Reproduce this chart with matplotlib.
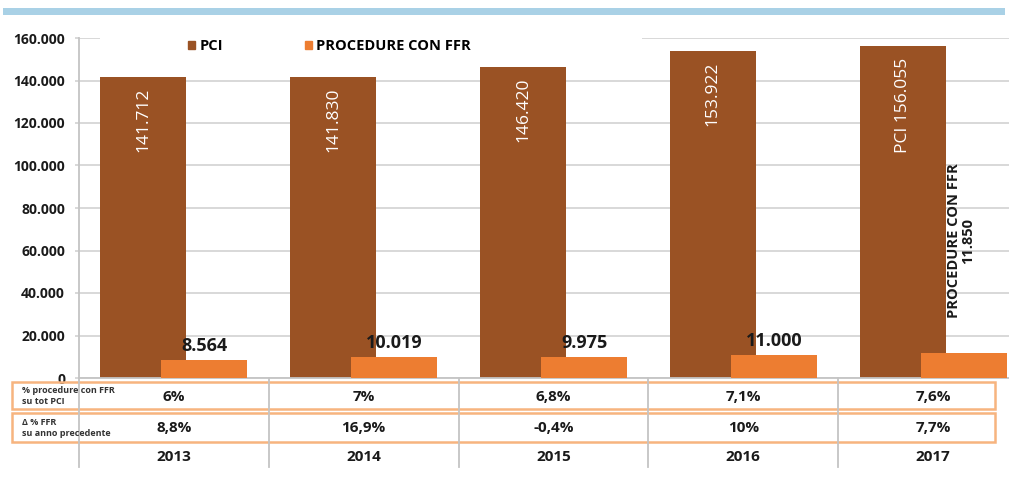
import matplotlib
matplotlib.use("Agg")
import matplotlib.pyplot as plt
from matplotlib.patches import Patch, Rectangle
from matplotlib.transforms import blended_transform_factory
import numpy as np

# ---------------- data ----------------
years = ["2013", "2014", "2015", "2016", "2017"]
pci = [141712, 141830, 146420, 153922, 156055]
ffr = [8564, 10019, 9975, 11000, 11850]
pct_ffr_on_pci = ["6%", "7%", "6,8%", "7,1%", "7,6%"]
delta_ffr = ["8,8%", "16,9%", "-0,4%", "10%", "7,7%"]
row_labels = ["% procedure con FFR\nsu tot PCI", "Δ % FFR\nsu anno precedente"]
series_names = ["PCI", "PROCEDURE CON FFR"]
yticks = [0, 20000, 40000, 60000, 80000, 100000, 120000, 140000, 160000]

# ---------------- style ----------------
PCI_C = "#9a5224"
FFR_C = "#ed7d31"
GRID_C = "#d6d6d6"
BOX_C = "#f7b47f"
BLUE_C = "#a9d1e6"
TXT_C = "#1a1a1a"

plt.rcParams['font.family'] = ['Open Sans', 'DejaVu Sans']

W, H = 1009, 488
fig = plt.figure(figsize=(W / 100, H / 100), dpi=100)


def fmt(v):
    return f"{v:,}".replace(",", ".")


# main axes: y=0 at px 378, y=160000 at px 38; category width ~190 px
ax = fig.add_axes([79 / W, 1 - 378 / H, (1028 - 79) / W, 340 / H])
x = np.arange(len(years))
off, bw = 0.161, 0.453
ax.bar(x - off, pci, bw, color=PCI_C, zorder=2, label=series_names[0])
ax.bar(x + off, ffr, bw, color=FFR_C, zorder=3, label=series_names[1])
ax.set_xlim(-0.5, len(years) - 0.5)
ax.set_ylim(0, 160000)
ax.set_yticks(yticks)
ax.set_yticklabels([fmt(v) for v in yticks])
ax.yaxis.grid(True, color=GRID_C, lw=1.3, zorder=0)
ax.set_axisbelow(True)
ax.tick_params(axis='y', length=3, color=GRID_C, width=1.3, pad=7,
               labelsize=10, labelcolor=TXT_C)
for t in ax.get_yticklabels():
    t.set_fontweight('bold')
ax.tick_params(axis='x', length=0, labelbottom=False)
for s in ("top", "right"):
    ax.spines[s].set_visible(False)
ax.spines["left"].set_color("#c4c4c4")
ax.spines["bottom"].set_color("#c4c4c4")
ax.spines["left"].set_linewidth(1.3)
ax.spines["bottom"].set_linewidth(1.3)

last = len(years) - 1
for i in range(len(years)):
    ptxt = fmt(pci[i]) if i < last else f"{series_names[0]} {fmt(pci[i])}"
    ax.annotate(ptxt, (x[i] - off, pci[i]), xytext=(0, -8),
                textcoords="offset points", rotation=90, ha="center", va="top",
                color="white", fontsize=12.5, fontweight="normal", zorder=5)
    if i < last:
        ax.annotate(fmt(ffr[i]), (x[i] + off, ffr[i]), xytext=(0, 6),
                    textcoords="offset points", ha="center", va="baseline",
                    color=TXT_C, fontsize=13, fontweight="bold", zorder=5)
    else:
        ax.annotate(f"{series_names[1]}\n{fmt(ffr[i])}", (x[i] + off, ffr[i]),
                    xytext=(-2, 25), textcoords="offset points", rotation=90,
                    ha="center", va="bottom", multialignment="center",
                    color=TXT_C, fontsize=10.5, fontweight="bold", zorder=5,
                    linespacing=1.0)

# overlay in pixel coordinates for band, table boxes and legend backing
ov = fig.add_axes([0, 0, 1, 1], facecolor="none")
ov.set_xlim(0, W)
ov.set_ylim(H, 0)
ov.axis("off")
ov.add_patch(Rectangle((3, 8), 1002, 7, color=BLUE_C, lw=0))
ov.add_patch(Rectangle((100, 32), 542, 12, color="white", lw=0))

bt = blended_transform_factory(ax.transData, ov.transData)
for k in range(len(years) + 1):
    ov.plot([k - 0.5, k - 0.5], [378, 467], color="#c4c4c4", lw=1.3,
            transform=bt, clip_on=False)
ov.add_patch(Rectangle((12, 382), 983, 27, fill=False, edgecolor=BOX_C, lw=1.8))
ov.add_patch(Rectangle((12, 413), 983, 29, fill=False, edgecolor=BOX_C, lw=1.8))

ov.text(22, 396, row_labels[0], fontsize=6.5, fontweight="bold", color="#333333",
        ha="left", va="center", linespacing=1.35)
ov.text(22, 428, row_labels[1], fontsize=6.5, fontweight="bold", color="#333333",
        ha="left", va="center", linespacing=1.35)
for i in range(len(years)):
    ov.text(x[i], 397, pct_ffr_on_pci[i], transform=bt, ha="center", va="center",
            fontsize=11, fontweight="bold", color=TXT_C)
    ov.text(x[i], 428, delta_ffr[i], transform=bt, ha="center", va="center",
            fontsize=11, fontweight="bold", color=TXT_C)
    ov.text(x[i], 457, years[i], transform=bt, ha="center", va="center",
            fontsize=11, fontweight="bold", color=TXT_C)

handles = [Patch(color=PCI_C, label=series_names[0]),
           Patch(color=FFR_C, label=series_names[1])]
fig.legend(handles=handles, loc="center left", bbox_to_anchor=(188 / W, 1 - 46 / H),
           ncol=2, frameon=False, borderpad=0, borderaxespad=0,
           handlelength=0.5, handleheight=0.5, handletextpad=0.3,
           columnspacing=5.6, prop={"weight": "bold", "size": 10.5})

fig.savefig("out.png", dpi=100)
